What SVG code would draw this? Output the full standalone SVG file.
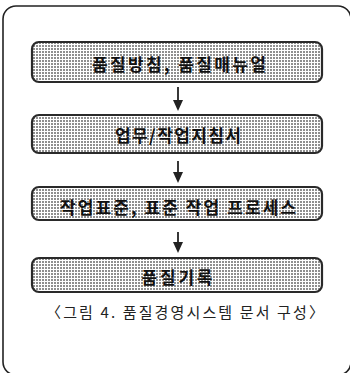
<svg xmlns="http://www.w3.org/2000/svg" width="350" height="373" viewBox="0 0 350 373">
<style>
.frame{fill:none;stroke:#222;stroke-width:1.6}
.box{fill:url(#dots);stroke:#2a2a2a;stroke-width:2.2}
.lbl{font-family:"Noto Sans CJK KR","Noto Sans",sans-serif;font-weight:bold;font-size:17px;fill:#111;text-anchor:middle}
.cap{font-family:"Noto Sans CJK KR","Noto Sans",sans-serif;font-size:15px;fill:#222;text-anchor:middle}
.arr{stroke:#222;stroke-width:1.8;fill:none}
.head{fill:#222}
</style>
<defs>
<pattern id="dots" width="3" height="3" patternUnits="userSpaceOnUse">
<rect width="3" height="3" fill="#fff"/>
<rect width="2" height="2" fill="#8f8f8f"/>
</pattern>
</defs>
<rect class="frame" x="3" y="6" width="348" height="369" rx="13"/>
<g id="n1"><rect class="box" x="32" y="42" width="290" height="40" rx="7"/><text class="lbl" x="179" y="71" textLength="174" lengthAdjust="spacing">품질방침, 품질매뉴얼</text></g>
<g id="n2"><rect class="box" x="32" y="115" width="290" height="38" rx="7"/><text class="lbl" x="178" y="142" textLength="126" lengthAdjust="spacing">업무/작업지침서</text></g>
<g id="n3"><rect class="box" x="32" y="187" width="290" height="33" rx="7"/><text class="lbl" x="178" y="214" textLength="236" lengthAdjust="spacing">작업표준, 표준 작업 프로세스</text></g>
<g id="n4"><rect class="box" x="32" y="258" width="290" height="34" rx="7"/><text class="lbl" x="177" y="284" textLength="71" lengthAdjust="spacing">품질기록</text></g>
<g id="connectors">
<line class="arr" x1="178" y1="87" x2="178" y2="102"/><path class="head" d="M173,100 L183,100 L178,111 Z"/>
<line class="arr" x1="178" y1="161" x2="178" y2="174"/><path class="head" d="M173,172 L183,172 L178,183 Z"/>
<line class="arr" x1="178" y1="232" x2="178" y2="244"/><path class="head" d="M173,242 L183,242 L178,253 Z"/>
</g>
<text class="cap" x="185" y="318" textLength="278" lengthAdjust="spacing">〈그림 4. 품질경영시스템 문서 구성〉</text>
</svg>
